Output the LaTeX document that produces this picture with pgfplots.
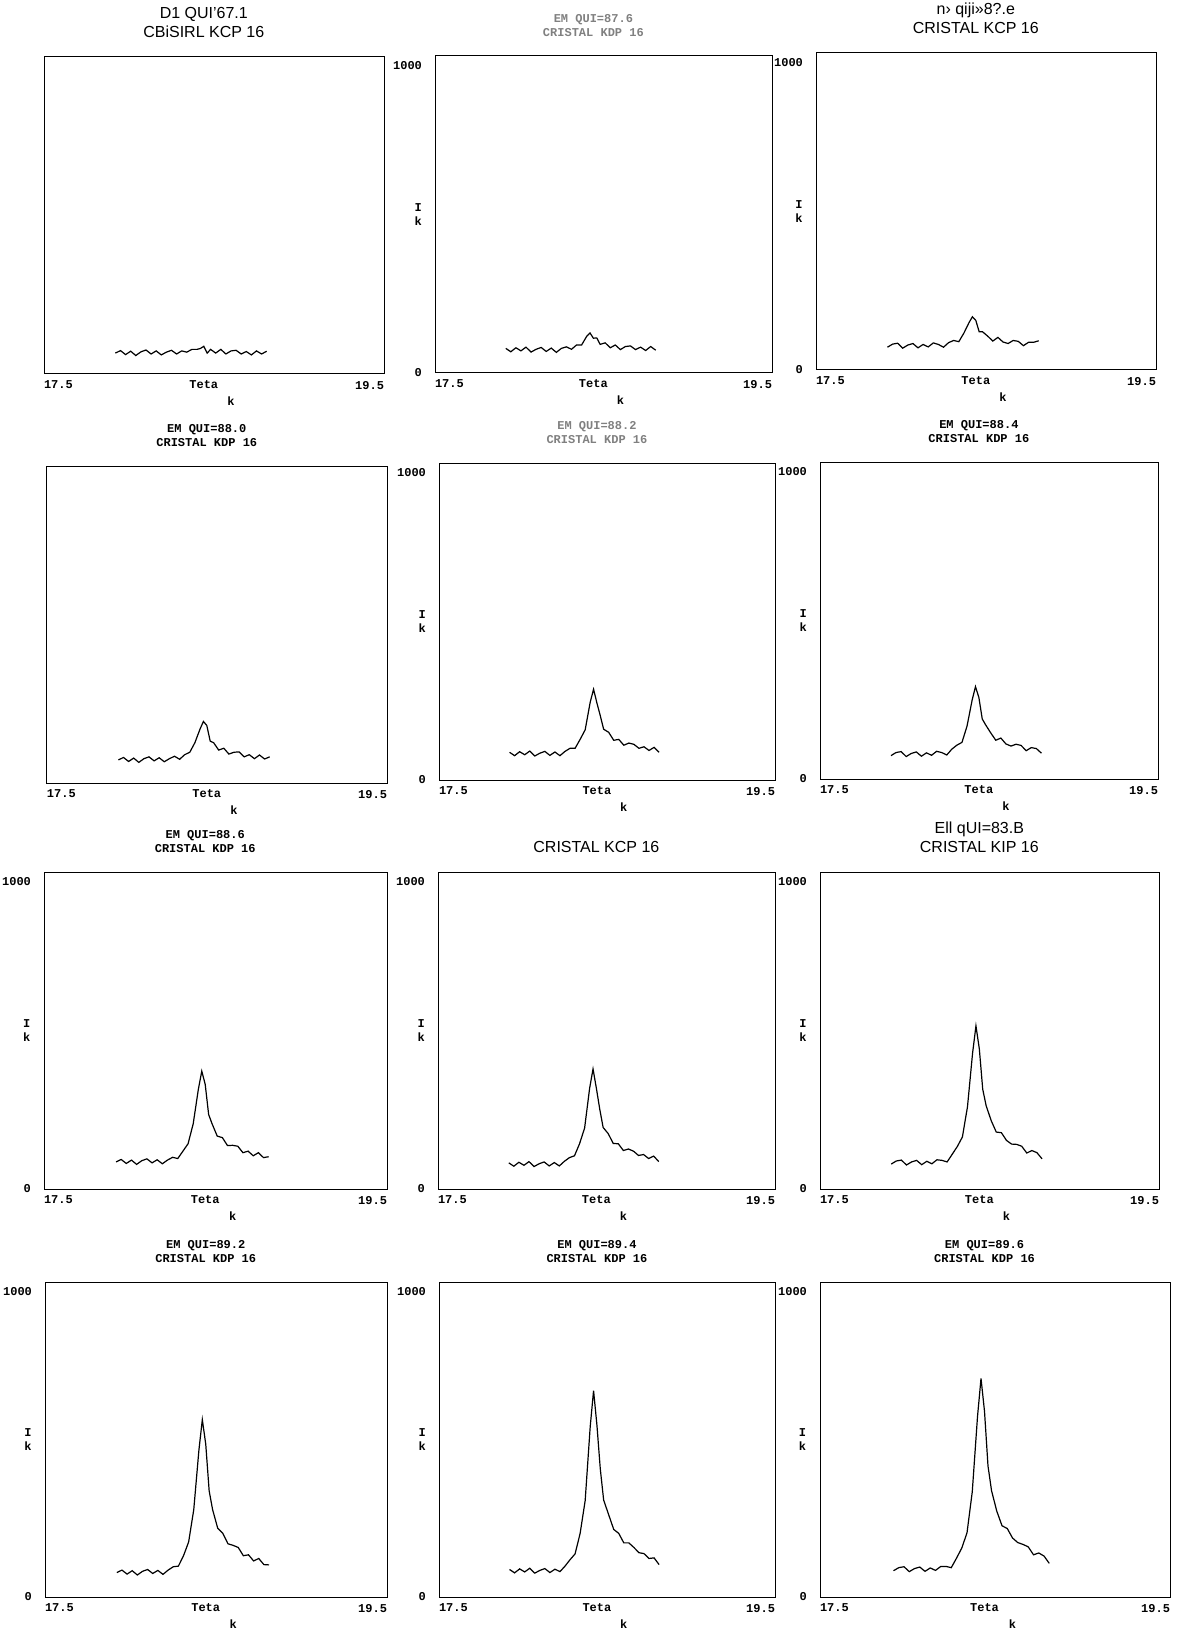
\documentclass[border=0pt]{standalone}
\usepackage{fontspec}
\setmainfont{Liberation Sans}
\setmonofont{Liberation Mono}
\usepackage{pgfplots}
\usepackage{pgfplotstable}
\pgfplotsset{compat=1.18}

\pgfplotstableread{
x     a   b   c   d   e   f   g   h   i   j   k   l
17.92 68  80  74  75  90  76  88  85  81  80  90  86
17.95 76  69  84  83  79  86  96  74  91  88  79  96
17.98 63  82  87  70  92  89  83  87  94  75  92  99
18.01 74  72  71  81  82  73  94  77  78  86  82  83
18.04 60  84  81  67  94  83  80  89  88  72  94  93
18.07 72  68  86  79  78  88  92  73  93  84  78  98
18.10 78  77  72  85  87  74  98  82  79  90  87  84
18.13 65  83  83  72  93  85  85  88  90  77  93  95
18.16 75  70  75  82  80  77  95  75  82  87  80  87
18.19 62  81  88  69  91  90  82  86  95  74  91  100
18.22 71  67  83  79  79  86  94  75  93  88  83  100
18.25 77  80  74  87  93  78  103 90  88  99  101 96
18.28 65  85  89  77  103 97  99  102 113 101 122 127
18.31 75  77  96  92  103 110 123 108 138 135 141 160
18.34 71  91  92  100 132 119 147 147 169 180 208 210
18.37 80  91  120 131 163 172 212 198 267 286 315 344
18.40 80  119 154 175 253 256 324 328 441 480 557 590
18.42 83  130 173 200 295 300 383 390 530 580 675 715
18.44 90  113 161 187 250 265 340 327 455 500 562 607
18.46 68  114 124 136 209 195 242 259 324 347 419 428
18.48 80  93  124 131 165 176 212 200 271 286 317 348
18.51 68  98  110 107 155 150 172 180 222 225 269 281
18.54 80  82  94  113 129 126 167 148 185 208 221 233
18.57 65  91  106 94  132 133 141 147 183 174 208 224
18.60 75  76  91  100 113 114 142 125 158 169 177 193
18.63 77  86  86  101 120 107 139 130 146 162 177 178
18.66 65  88  96  85  116 113 118 123 145 135 162 172
18.69 73  76  93  92  103 109 123 109 139 138 145 164
18.72 62  84  79  79  108 92  108 112 117 118 142 138
18.75 75  73  90  91  96  102 118 99  125 126 126 144
18.78 65  86  90  78  106 99  102 107 118 106 128 134
18.81 74  74  95  85  90  84  105 89  98  105 106 110
}\data

\newcommand{\pix}{\ttfamily\bfseries\fontsize{6}{7.2}\selectfont}
\newcommand{\clean}{\rmfamily\fontsize{8}{9.5}\selectfont}

\pgfplotsset{panel/.style={scale only axis, height=158.5pt, anchor=north west,
  xmin=17.5, xmax=19.5, ymin=0, ymax=1030,
  xtick={17.5,19.5}, xticklabels={\makebox[0pt][l]{17.5},\makebox[0pt][r]{19.5}},
  ytick={0,1000}, yticklabels={0,1000},
  major tick length=0pt,
  tick label style={font=\pix},
  yticklabel style={xshift=-3pt},
  axis line style={line width=0.5pt},
  clip=false}}

\newcommand{\xlab}{%
  \node[font=\pix, anchor=north, inner sep=1pt] at (axis description cs:0.47,-0.012) {Teta};
  \node[font=\pix, anchor=north, inner sep=1pt] at (axis description cs:0.55,-0.065) {k};}
\newcommand{\ylab}{%
  \node[font=\pix, align=center, inner sep=0pt] at (axis description cs:-0.05,0.5) {I\\k};}

\begin{document}
\begin{tikzpicture}
\useasboundingbox (0,0) rectangle (589.5pt,-823.5pt);

% Row 1
\begin{axis}[panel, width=170pt, at={(22pt,-28.5pt)}, yticklabels={,}]
\addplot[black, line width=0.6pt] table[x=x,y=a]{\data};
\xlab
\node[anchor=south, align=center, font=\clean, inner sep=0pt] at (axis description cs:0.47,1.06) {D1 QUI'67.1\\CBiSIRL KCP 16};
\end{axis}

\begin{axis}[panel, width=168.5pt, at={(217.5pt,-28pt)}]
\addplot[black, line width=0.6pt] table[x=x,y=b]{\data};
\xlab \ylab
\node[anchor=south, align=center, font=\pix, inner sep=0pt, gray] at (axis description cs:0.47,1.06) {EM QUI=87.6\\CRISTAL KDP 16};
\end{axis}

\begin{axis}[panel, width=170pt, at={(408pt,-26.5pt)}]
\addplot[black, line width=0.6pt] table[x=x,y=c]{\data};
\xlab \ylab
\node[anchor=south, align=center, font=\clean, inner sep=0pt] at (axis description cs:0.47,1.06) {n› qiji»8?.e\\CRISTAL KCP 16};
\end{axis}

% Row 2
\begin{axis}[panel, width=170pt, at={(23.5pt,-233pt)}, yticklabels={,}]
\addplot[black, line width=0.6pt] table[x=x,y=d]{\data};
\xlab
\node[anchor=south, align=center, font=\pix, inner sep=0pt] at (axis description cs:0.47,1.06) {EM QUI=88.0\\CRISTAL KDP 16};
\end{axis}

\begin{axis}[panel, width=168pt, at={(219.5pt,-231.5pt)}]
\addplot[black, line width=0.6pt] table[x=x,y=e]{\data};
\xlab \ylab
\node[anchor=south, align=center, font=\pix, inner sep=0pt, gray] at (axis description cs:0.47,1.06) {EM QUI=88.2\\CRISTAL KDP 16};
\end{axis}

\begin{axis}[panel, width=169pt, at={(410pt,-231pt)}]
\addplot[black, line width=0.6pt] table[x=x,y=f]{\data};
\xlab \ylab
\node[anchor=south, align=center, font=\pix, inner sep=0pt] at (axis description cs:0.47,1.06) {EM QUI=88.4\\CRISTAL KDP 16};
\end{axis}

% Row 3
\begin{axis}[panel, width=171.5pt, at={(22pt,-436pt)}]
\addplot[black, line width=0.6pt] table[x=x,y=g]{\data};
\xlab \ylab
\node[anchor=south, align=center, font=\pix, inner sep=0pt] at (axis description cs:0.47,1.06) {EM QUI=88.6\\CRISTAL KDP 16};
\end{axis}

\begin{axis}[panel, width=168.5pt, at={(219pt,-436pt)}]
\addplot[black, line width=0.6pt] table[x=x,y=h]{\data};
\xlab \ylab
\node[anchor=south, align=center, font=\clean, inner sep=0pt] at (axis description cs:0.47,1.06) {CRISTAL KCP 16};
\end{axis}

\begin{axis}[panel, width=169.5pt, at={(410pt,-436pt)}]
\addplot[black, line width=0.6pt] table[x=x,y=i]{\data};
\xlab \ylab
\node[anchor=south, align=center, font=\clean, inner sep=0pt] at (axis description cs:0.47,1.06) {Ell qUI=83.B\\CRISTAL KIP 16};
\end{axis}

% Row 4
\begin{axis}[panel, width=171pt, at={(22.5pt,-641pt)}, height=157.5pt]
\addplot[black, line width=0.6pt] table[x=x,y=j]{\data};
\xlab \ylab
\node[anchor=south, align=center, font=\pix, inner sep=0pt] at (axis description cs:0.47,1.06) {EM QUI=89.2\\CRISTAL KDP 16};
\end{axis}

\begin{axis}[panel, width=168pt, at={(219.5pt,-641pt)}, height=157.5pt]
\addplot[black, line width=0.6pt] table[x=x,y=k]{\data};
\xlab \ylab
\node[anchor=south, align=center, font=\pix, inner sep=0pt] at (axis description cs:0.47,1.06) {EM QUI=89.4\\CRISTAL KDP 16};
\end{axis}

\begin{axis}[panel, width=175pt, at={(410pt,-641pt)}, height=157.5pt]
\addplot[black, line width=0.6pt] table[x=x,y=l]{\data};
\xlab \ylab
\node[anchor=south, align=center, font=\pix, inner sep=0pt] at (axis description cs:0.47,1.06) {EM QUI=89.6\\CRISTAL KDP 16};
\end{axis}
\end{tikzpicture}
\end{document}
